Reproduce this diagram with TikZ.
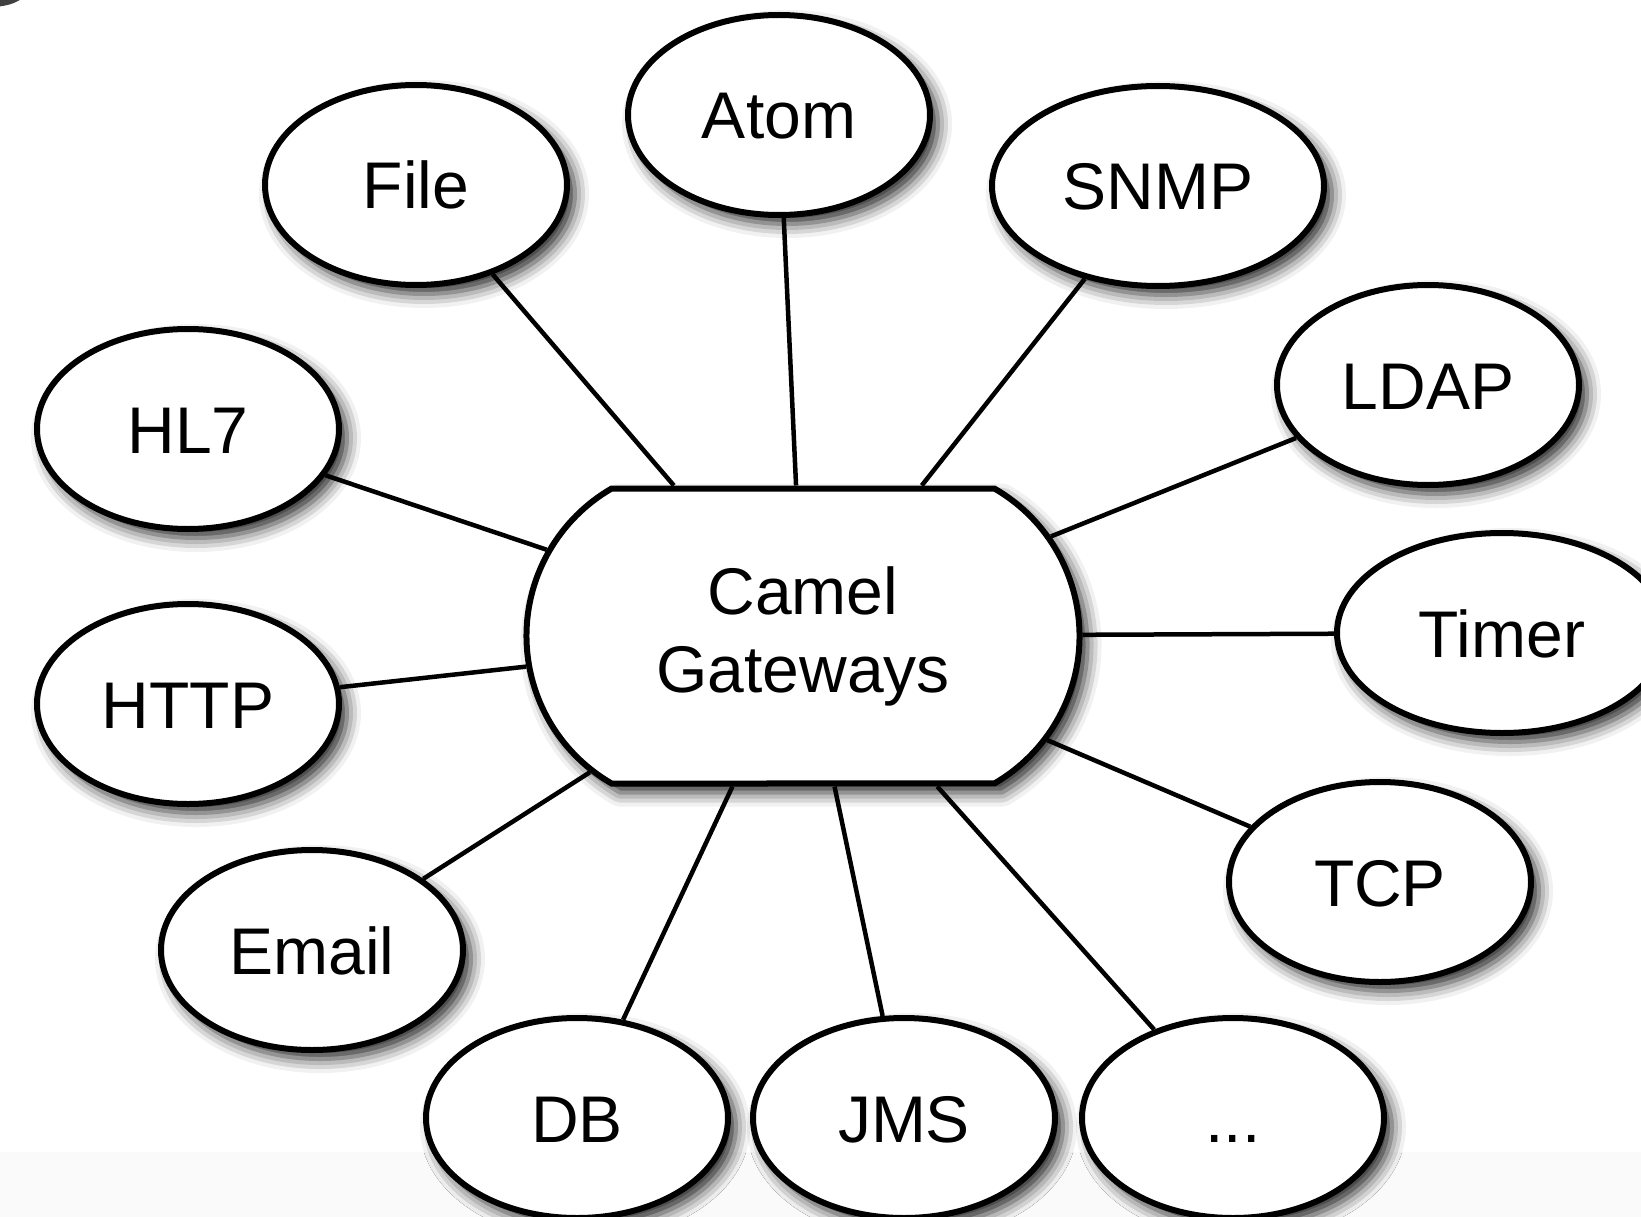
\documentclass[tikz,border=0pt]{standalone}
\usepackage{fontspec}
\setmainfont{Liberation Sans}
\usetikzlibrary{shapes.geometric}
\usetikzlibrary{shapes.misc}
\usetikzlibrary{shadows.blur}

\begin{document}
\begin{tikzpicture}[x=1pt, y=-1pt,
        soft/.style={blur shadow={shadow xshift=8pt, shadow yshift=-9pt, shadow blur radius=14pt, shadow opacity=85}},
        comp/.style={ellipse, draw, line width=6, fill=white, soft,
            minimum width=302, minimum height=200, inner sep=0pt,
            text height=48, text depth=0,
            font=\fontsize{66}{78}\selectfont},
        gateway/.style={rounded rectangle, rounded rectangle arc length=120, draw, line width=6, fill=white, soft,
            minimum width=553, minimum height=295, inner sep=0pt, align=center,
            font=\fontsize{66}{78}\selectfont},
        link/.style={line width=4.5}]
        \useasboundingbox (0,0) rectangle (1641,1217);
        \fill[black!2] (0,1152) rectangle (1641,1217);
        \fill[black!75] (-10,-8) ellipse (35 and 15);
        % the hub
        \node[gateway] (gw) at (803,636) {Camel\\Gateways};
        % components round it
        \node[comp] (file) at (416,185) {File};
        \node[comp] (atom) at (779,115) {Atom};
        \node[comp, minimum width=332] (snmp) at (1158,186) {SNMP};
        \node[comp] (ldap) at (1428,385) {LDAP};
        \node[comp] (hl7) at (188,429) {HL7};
        \node[comp, minimum width=330] (timer) at (1502,633) {Timer};
        \node[comp] (http) at (188,704) {HTTP};
        \node[comp] (tcp) at (1380,882) {TCP};
        \node[comp] (email) at (312,950) {Email};
        \node[comp] (db) at (577,1118) {DB};
        \node[comp] (jms) at (904,1118) {JMS};
        \node[comp] (more) at (1233,1118) {...};
        \foreach \c in {file, atom, snmp, ldap, hl7, timer, http, tcp, email, db, jms, more}
            \draw[link] (\c) -- (gw);
\end{tikzpicture}
\end{document}
